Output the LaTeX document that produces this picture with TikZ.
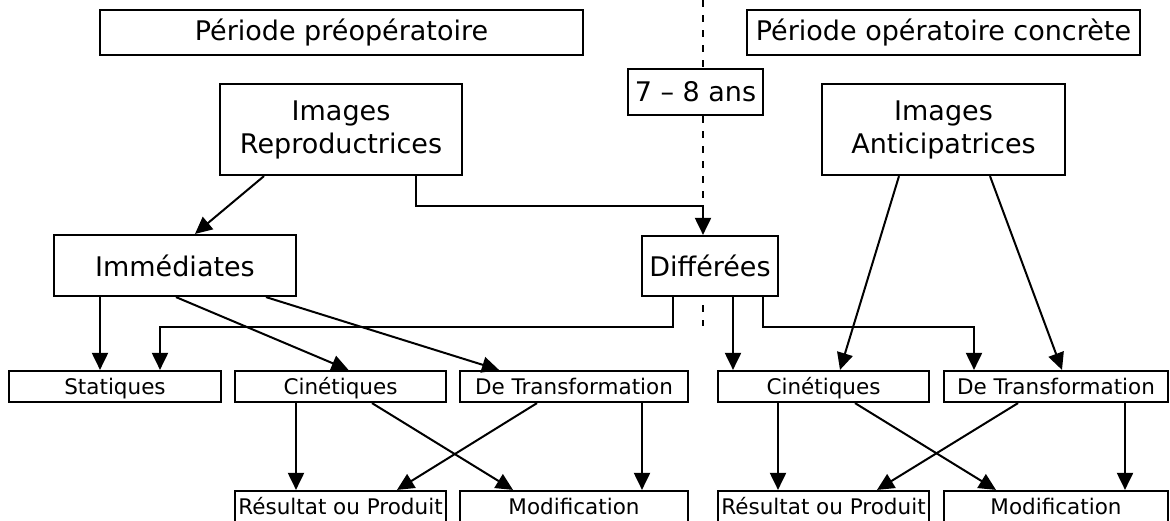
\documentclass[tikz,border=0pt]{standalone}
\usepackage{fontspec}
\setmainfont{DejaVu Sans}
\usepackage{tikz}
\usetikzlibrary{arrows.meta}
\usetikzlibrary{positioning}

\tikzset{
	arr/.style={-{Triangle[length=17pt, width=16pt]}}, % big filled heads
}

\begin{document}
\begin{tikzpicture} [
	x=1pt, y=-1pt, % one unit is one pixel, y runs downwards
	line width=2pt,
	box/.style={draw, rectangle, line width=2.2pt, inner sep=0pt, align=center}, % every frame
	big/.style={box, font=\fontsize{27}{33}\selectfont},
	small/.style={box, font=\fontsize{21.5}{25}\selectfont, minimum height=31pt, text height=20pt, text depth=5pt},
	cut/.style={dash pattern=on 7pt off 8pt}, % the 7-8 ans border
	]
	\useasboundingbox (0,0) rectangle (1170,520);
	\coordinate (sep) at (703,0);

	% periods and age
	\node[big, minimum width=483pt, minimum height=45pt] (preop) at (341.5,32.5) {Période préopératoire};
	\node[big, minimum width=393pt, minimum height=45pt] (concr) at (943.5,32.5) {Période opératoire concrète};
	\node[big, minimum width=135pt, minimum height=46pt] (age) at (695.5,92) {7 – 8 ans};

	% images
	\node[big, minimum width=242pt, minimum height=91pt] (repro) at (341,129.5) {Images\\Reproductrices};
	\node[big, minimum width=243pt, minimum height=91pt] (antic) at (943.5,129.5) {Images\\Anticipatrices};
	\node[big, minimum width=242pt, minimum height=61pt] (immed) at (175,265.5) {Immédiates};
	\node[big, minimum width=136pt, minimum height=60pt] (differ) at (710,266) {Différées};

	% kinds
	\node[small, minimum width=212pt] (stat) at (115,386.5) {Statiques};
	\node[small, minimum width=211pt] (cinL) at (340.5,386.5) {Cinétiques};
	\node[small, minimum width=228pt] (trL) at (574,386.5) {De Transformation};
	\node[small, minimum width=211pt] (cinR) at (823.5,386.5) {Cinétiques};
	\node[small, minimum width=224pt] (trR) at (1056,386.5) {De Transformation};

	\node[small, minimum width=211pt] (resL) at (340.5,506.5) {Résultat ou Produit};
	\node[small, minimum width=228pt] (modL) at (574,506.5) {Modification};
	\node[small, minimum width=211pt] (resR) at (823.5,506.5) {Résultat ou Produit};
	\node[small, minimum width=224pt] (modR) at (1056,506.5) {Modification};

	% dashed border
	\draw[cut] (sep) -- (sep |- age.north);
	\draw[cut] (sep |- age.south) -- (sep |- 0,205);
	\draw[cut, dash phase=7pt] (sep |- differ.south) -- (sep |- 0,326);

	\path[every edge/.append style={arr}]
		([xshift=-77pt]repro.south) edge ([xshift=20pt]immed.north)
		([xshift=-75pt]immed.south) edge ([xshift=-75pt]immed.south |- stat.north)
		([xshift=1pt]immed.south) edge ([xshift=8pt]cinL.north)
		([xshift=91pt]immed.south) edge ([xshift=-75pt]trL.north)

		([xshift=23pt]differ.south) edge ([xshift=23pt]differ.south |- cinR.north)
		([xshift=-44.5pt]antic.south) edge ([xshift=16.5pt]cinR.north)
		([xshift=46.5pt]antic.south) edge ([xshift=6pt]trR.north)

		([xshift=-44.5pt]cinL.south) edge ([xshift=-44.5pt]cinL.south |- resL.north)
		([xshift=31.5pt]cinL.south) edge ([xshift=-61pt]modL.north)
		([xshift=-37pt]trL.south) edge ([xshift=56.5pt]resL.north)
		([xshift=68pt]trL.south) edge ([xshift=68pt]trL.south |- modL.north)

		([xshift=-45.5pt]cinR.south) edge ([xshift=-45.5pt]cinR.south |- resR.north)
		([xshift=31.5pt]cinR.south) edge ([xshift=-60pt]modR.north)
		([xshift=-38pt]trR.south) edge ([xshift=53.5pt]resR.north)
		([xshift=69pt]trR.south) edge ([xshift=69pt]trR.south |- modR.north)
	;
	\draw[arr] ([xshift=75pt]repro.south) -- ++(0,30) -| (sep |- differ.north);
	\draw[arr] ([xshift=-37pt]differ.south) -- ++(0,30) -| ([xshift=45pt]stat.north);
	\draw[arr] ([xshift=53pt]differ.south) -- ++(0,30) -| ([xshift=-82pt]trR.north);
\end{tikzpicture}
\end{document}
